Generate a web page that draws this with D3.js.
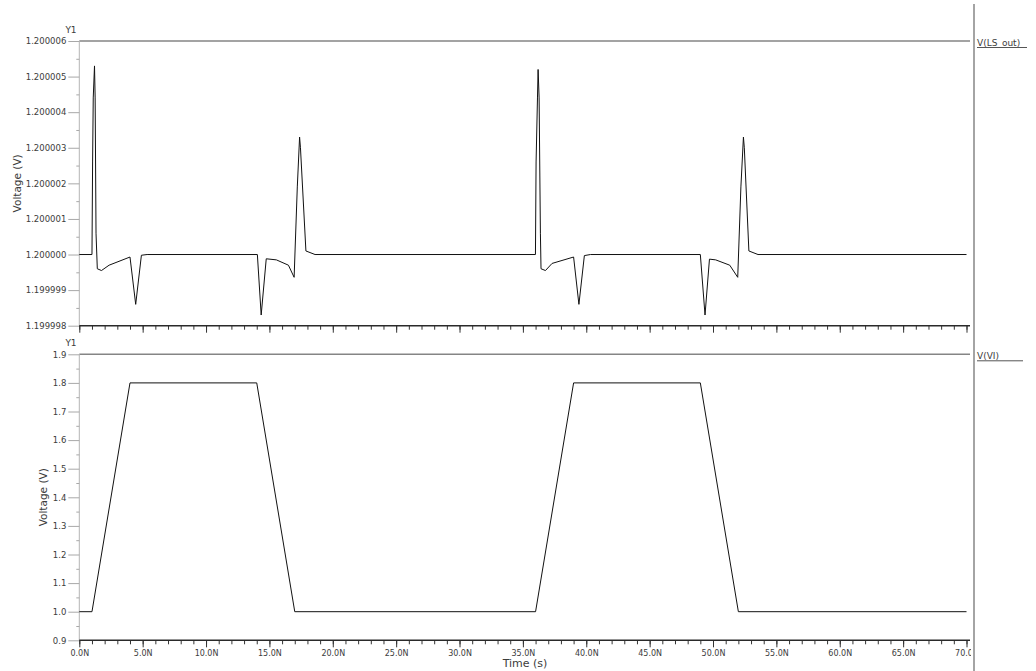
<!DOCTYPE html>
<html>
<head>
<meta charset="utf-8">
<script src="https://cdn.jsdelivr.net/npm/d3@7"></script>
<style>
    body { margin: 0; background: #fff; }
    svg text { font-family: "DejaVu Sans", sans-serif; fill: #3c3c3c; }
</style>
</head>
<body>
<div id="chart"></div>
<script>
// V(LS_out) transient samples (time in ns, volts)
const lsTime = [0, 1.0, 1.05, 1.1, 1.2, 1.25, 1.32, 1.42, 1.75, 2.35, 4.0, 4.45, 4.9, 5.35,
    14.05, 14.35, 14.75, 15.55, 16.5, 16.95, 17.2, 17.38, 17.45, 17.88, 18.6,
    35.99, 36.04, 36.15, 36.2, 36.28, 36.38, 36.43, 36.78, 37.3, 39.0, 39.42, 39.85, 40.33,
    49.0, 49.37, 49.72, 50.21, 51.32, 51.95, 52.2, 52.4, 52.47, 52.83, 53.55, 70];
const lsVolt = [1.2, 1.2, 1.2000026, 1.2000044, 1.2000053, 1.2000044, 1.2000006, 1.1999996, 1.19999955, 1.1999997, 1.19999993, 1.1999986, 1.19999998, 1.2,
    1.2, 1.1999983, 1.19999988, 1.19999985, 1.1999997, 1.19999936, 1.2000019, 1.2000033, 1.200003, 1.2000001, 1.2,
    1.2, 1.2000026, 1.2000044, 1.2000052, 1.2000044, 1.2000006, 1.1999996, 1.19999955, 1.19999975, 1.19999993, 1.1999986, 1.19999997, 1.2,
    1.2, 1.1999983, 1.19999987, 1.19999985, 1.1999997, 1.19999936, 1.2000019, 1.2000033, 1.200003, 1.2000001, 1.2, 1.2];

// V(VI) input pulse
const viTime = [0, 1, 4, 14, 17, 36, 39, 49, 52, 70];
const viVolt = [1.0, 1.0, 1.8, 1.8, 1.0, 1.0, 1.8, 1.8, 1.0, 1.0];

// axis ticks
const timeTicks = [0, 5, 10, 15, 20, 25, 30, 35, 40, 45, 50, 55, 60, 65, 70];
const timeLabels = ["0.0N", "5.0N", "10.0N", "15.0N", "20.0N", "25.0N", "30.0N", "35.0N",
    "40.0N", "45.0N", "50.0N", "55.0N", "60.0N", "65.0N", "70.0N"];
const lsTicks = [1.199998, 1.199999, 1.2, 1.200001, 1.200002, 1.200003, 1.200004, 1.200005, 1.200006];
const lsLabels = ["1.199998", "1.199999", "1.200000", "1.200001", "1.200002", "1.200003", "1.200004", "1.200005", "1.200006"];
const viTicks = [0.9, 1.0, 1.1, 1.2, 1.3, 1.4, 1.5, 1.6, 1.7, 1.8, 1.9];
const viLabels = ["0.9", "1.0", "1.1", "1.2", "1.3", "1.4", "1.5", "1.6", "1.7", "1.8", "1.9"];

const W = 1036, H = 671;
const plotLeft = 79.3, plotRight = 966.5, frameRight = 970;

const svg = d3.select("#chart").append("svg")
    .attr("width", W)
    .attr("height", H)
    .attr("viewBox", [0, 0, W, H]);

svg.append("defs").append("clipPath")
    .attr("id", "left-clip")
    .append("rect")
    .attr("x", 0).attr("y", 0)
    .attr("width", 971).attr("height", H);

const root = svg.append("g").attr("clip-path", "url(#left-clip)");

const xScale = d3.scaleLinear([0, 70], [plotLeft, plotRight]);

function drawPanel(cfg) {
    const { top, bottom, domain, ticks, labels, minorStep, time, volt, legend, labelX, showTimeLabels } = cfg;
    const yScale = d3.scaleLinear(domain, [bottom, top]);

    // top frame line
    root.append("line")
        .attr("x1", plotLeft).attr("x2", frameRight)
        .attr("y1", top).attr("y2", top)
        .attr("stroke", "#858585")
        .attr("stroke-width", 1.5);

    // y axis line
    root.append("line")
        .attr("x1", plotLeft).attr("x2", plotLeft)
        .attr("y1", top).attr("y2", bottom)
        .attr("stroke", "#b4b4b4")
        .attr("stroke-width", 1);

    // minor y ticks
    const minor = d3.range(domain[0] + minorStep, domain[1], minorStep * 2);
    root.append("g")
        .attr("transform", `translate(${plotLeft},0)`)
        .call(d3.axisLeft(yScale).tickValues(minor).tickSize(3).tickFormat(""))
        .call(g => g.select(".domain").remove())
        .call(g => g.selectAll("line").attr("stroke", "#a8a8a8"));

    // major y ticks
    root.append("g")
        .attr("transform", `translate(${plotLeft},0)`)
        .call(d3.axisLeft(yScale).tickValues(ticks).tickSize(11).tickPadding(2)
            .tickFormat((d, i) => labels[i]))
        .call(g => g.select(".domain").remove())
        .call(g => g.selectAll("line").attr("stroke", "#a8a8a8"))
        .call(g => g.selectAll("text")
            .attr("font-size", 8.5)
            .attr("fill", "#3c3c3c"));

    // x axis, minor + major ticks
    root.append("g")
        .attr("transform", `translate(0,${bottom})`)
        .call(d3.axisBottom(xScale).tickValues(d3.range(0, 71, 1)).tickSize(4).tickFormat(""))
        .call(g => g.select(".domain").remove())
        .call(g => g.selectAll("line").attr("stroke", "#333"));

    root.append("g")
        .attr("transform", `translate(0,${bottom})`)
        .call(d3.axisBottom(xScale).tickValues(timeTicks).tickSize(7).tickPadding(3)
            .tickFormat((d, i) => showTimeLabels ? timeLabels[i] : ""))
        .call(g => g.select(".domain").remove())
        .call(g => g.selectAll("line").attr("stroke", "#333"))
        .call(g => g.selectAll("text")
            .attr("font-size", 8)
            .attr("fill", "#3c3c3c"));

    root.append("line")
        .attr("x1", plotLeft).attr("x2", frameRight)
        .attr("y1", bottom).attr("y2", bottom)
        .attr("stroke", "#2a2a2a")
        .attr("stroke-width", 1.6);

    // trace
    root.append("path")
        .datum(d3.range(time.length))
        .attr("fill", "none")
        .attr("stroke", "#111")
        .attr("stroke-width", 1)
        .attr("d", d3.line()
            .x(i => xScale(time[i]))
            .y(i => yScale(volt[i]))
        );

    // Y1 caption
    root.append("text")
        .attr("x", 71)
        .attr("y", top - 8)
        .attr("text-anchor", "middle")
        .attr("font-size", 9)
        .text("Y1");

    // axis title
    root.append("text")
        .attr("transform", `translate(${labelX},${(top + bottom) / 2}) rotate(-90)`)
        .attr("text-anchor", "middle")
        .attr("dominant-baseline", "central")
        .attr("font-size", 10.5)
        .text("Voltage (V)");

    // legend entry on the right
    const lg = svg.append("g");
    lg.append("text")
        .attr("x", 977)
        .attr("y", top + 5)
        .attr("font-size", 9)
        .text(legend.name);
    lg.append("line")
        .attr("x1", 977).attr("x2", 977 + legend.width)
        .attr("y1", top + 6.5).attr("y2", top + 6.5)
        .attr("stroke", "#555")
        .attr("stroke-width", 1);
}

drawPanel({
    top: 41, bottom: 325.7,
    domain: [1.199998, 1.200006],
    ticks: lsTicks, labels: lsLabels, minorStep: 0.0000005,
    time: lsTime, volt: lsVolt,
    legend: { name: "V(LS_out)", width: 50 },
    labelX: 16.5,
    showTimeLabels: false
});

drawPanel({
    top: 354.3, bottom: 640.3,
    domain: [0.9, 1.9],
    ticks: viTicks, labels: viLabels, minorStep: 0.05,
    time: viTime, volt: viVolt,
    legend: { name: "V(VI)", width: 46 },
    labelX: 43,
    showTimeLabels: true
});

// x axis title
svg.append("text")
    .attr("x", 525)
    .attr("y", 667)
    .attr("text-anchor", "middle")
    .attr("font-size", 11)
    .text("Time (s)");

// separator between plot and legend area
svg.append("line")
    .attr("x1", 974).attr("x2", 974)
    .attr("y1", 4).attr("y2", H)
    .attr("stroke", "#a4a4a4")
    .attr("stroke-width", 2);
</script>
</body>
</html>
